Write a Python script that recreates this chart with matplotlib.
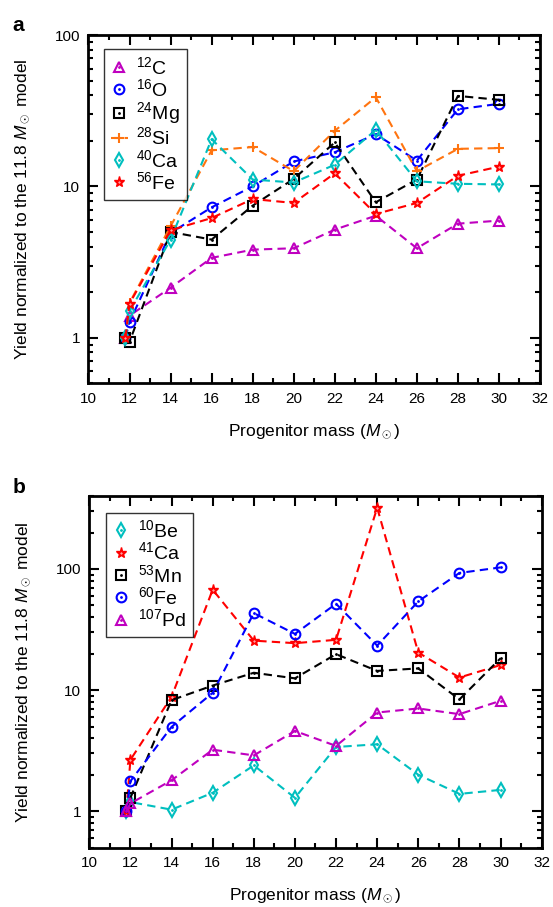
import numpy as np
import matplotlib.pyplot as plt
from matplotlib.legend_handler import HandlerTuple
from matplotlib.ticker import FixedLocator, NullFormatter, MultipleLocator

plt.rcParams['font.family'] = ['Liberation Sans', 'DejaVu Sans']
plt.rcParams['mathtext.fontset'] = 'custom'
plt.rcParams['mathtext.rm'] = 'Liberation Sans'
plt.rcParams['mathtext.it'] = 'Liberation Sans:italic'

mass = [11.8, 12, 14, 16, 18, 20, 22, 24, 26, 28, 30]

# panel a
c12 = [1, 1.4, 2.14, 3.37, 3.82, 3.9, 5.18, 6.4, 3.9, 5.67, 5.94]
o16 = [1, 1.27, 4.92, 7.27, 10.0, 14.6, 16.8, 22.1, 14.8, 32.3, 35.1]
mg24 = [1, 0.94, 5.0, 4.45, 7.46, 11.2, 19.5, 7.85, 11.1, 39.6, 37.3]
si28 = [1, 1.7, 5.45, 17.3, 18.2, 12.6, 23.3, 38.8, 12.6, 17.7, 17.9]
ca40 = [1, 1.5, 4.45, 20.5, 11.1, 10.6, 13.9, 23.6, 10.8, 10.4, 10.3]
fe56 = [1, 1.68, 5.13, 6.18, 8.25, 7.77, 12.2, 6.57, 7.77, 11.75, 13.5]

# panel b
be10 = [1, 1.19, 1.03, 1.42, 2.39, 1.29, 3.39, 3.57, 2.0, 1.39, 1.5]
ca41 = [1, 2.66, 8.8, 67.4, 25.6, 24.4, 26.0, 320, 20.4, 12.7, 16.1]
mn53 = [1, 1.29, 8.26, 10.9, 13.9, 12.5, 19.8, 14.4, 15.1, 8.37, 18.3]
fe60 = [1, 1.77, 4.97, 9.5, 43.2, 29.1, 51.6, 23.3, 54.0, 92.7, 103]
pd107 = [1, 1.16, 1.8, 3.22, 2.89, 4.6, 3.46, 6.53, 7.05, 6.33, 8.16]

series_a = [
    (c12, r'$^{12}$C', 'm', '^'),
    (o16, r'$^{16}$O', 'b', 'o'),
    (mg24, r'$^{24}$Mg', 'k', 's'),
    (si28, r'$^{28}$Si', '#ff7410', '+'),
    (ca40, r'$^{40}$Ca', 'c', 'd'),
    (fe56, r'$^{56}$Fe', 'r', '*'),
]
series_b = [
    (be10, r'$^{10}$Be', 'c', 'd'),
    (ca41, r'$^{41}$Ca', 'r', '*'),
    (mn53, r'$^{53}$Mn', 'k', 's'),
    (fe60, r'$^{60}$Fe', 'b', 'o'),
    (pd107, r'$^{107}$Pd', 'm', '^'),
]

fig = plt.figure(figsize=(5.53, 9.07), dpi=100)
ax_a = fig.add_axes([0.160, 0.5774, 0.8165, 0.384])
ax_b = fig.add_axes([0.1615, 0.0654, 0.818, 0.3877])


def draw(ax, series, ylim, leg_box):
    handles = []
    for vals, lab, col, mk in series:
        ms = 7 if mk != '*' else 8
        if mk == '+':
            h, = ax.plot(mass, vals, ls='--', lw=1.5, color=col, marker=mk,
                         ms=6.5, mew=1.5, dashes=(4, 2.5))
            handles.append(h)
            continue
        if mk == '*':
            h, = ax.plot(mass, vals, ls='--', lw=1.5, color=col, marker=mk,
                         ms=ms, mfc=col, mec=col, mew=1, dashes=(4, 2.5))
            dot, = ax.plot(mass, vals, ls='none', marker='.', ms=0.8, color='w')
        else:
            h, = ax.plot(mass, vals, ls='--', lw=1.5, color=col, marker=mk,
                         ms=ms, mfc='none', mec=col, mew=1.5, dashes=(4, 2.5))
            dot, = ax.plot(mass, vals, ls='none', marker='.', ms=2, color=col)
        h2, = ax.plot([], [], ls='none', marker=mk, ms=ms, mfc='none' if mk != '*' else col,
                      mec=col, mew=1.5 if mk != '*' else 1)
        d2, = ax.plot([], [], ls='none', marker='.', ms=dot.get_markersize(),
                      color=dot.get_color())
        handles.append((h2, d2))

    ax.set_yscale('log')
    ax.set_ylim(*ylim)
    ax.set_xlim(10, 32)
    ax.xaxis.set_major_locator(MultipleLocator(2))
    ax.xaxis.set_minor_locator(MultipleLocator(1))
    ax.yaxis.set_major_locator(FixedLocator([1, 10, 100]))
    ax.yaxis.set_major_formatter(plt.FuncFormatter(lambda v, p: '%g' % v))
    minors = [m * d for d in (0.1, 1, 10, 100) for m in range(2, 10)]
    ax.yaxis.set_minor_locator(FixedLocator(minors))
    ax.yaxis.set_minor_formatter(NullFormatter())
    ax.tick_params(which='both', direction='in', top=True, right=True,
                   labelsize=11, width=1.5, pad=6)
    ax.tick_params(which='major', length=7)
    ax.tick_params(which='minor', length=3.5)
    for sp in ax.spines.values():
        sp.set_linewidth(2)

    ax.set_xlabel(r'Progenitor mass ($M_\odot$)', fontsize=12.5, labelpad=12)
    ax.set_ylabel(r'Yield normalized to the 11.8 $M_\odot$ model', fontsize=12.5,
                  labelpad=16)
    leg = ax.legend(handles, [s[1] for s in series], loc='upper left',
                    bbox_to_anchor=leg_box, fontsize=14, frameon=True,
                    fancybox=False, edgecolor='k', handlelength=0.9,
                    handletextpad=0.4, labelspacing=0.02, borderpad=0.35,
                    borderaxespad=0.0,
                    handler_map={tuple: HandlerTuple(ndivide=1)})
    leg.get_frame().set_linewidth(1.0)


draw(ax_a, series_a, (0.5, 100), (0.034, 0.96))
draw(ax_b, series_b, (0.5, 400), (0.036, 0.953))

fig.text(0.022, 0.972, 'a', fontsize=15, fontweight='bold', va='center')
fig.text(0.022, 0.463, 'b', fontsize=15, fontweight='bold', va='center')

fig.savefig('out.png', dpi=100)
